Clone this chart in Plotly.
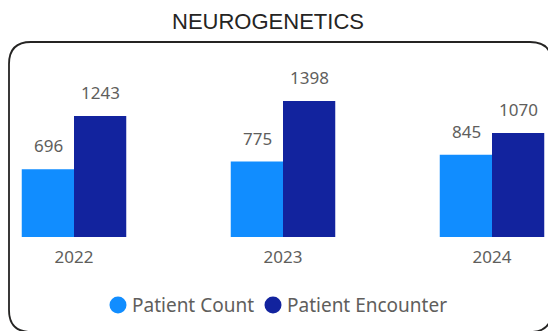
import plotly.graph_objects as go

# Yearly figures for the neurogenetics clinic
years = ["2022", "2023", "2024"]
patient_count = [696, 775, 845]
patient_encounter = [1243, 1398, 1070]

series_names = ["Patient Count", "Patient Encounter"]
series_colors = ["#118DFF", "#12239E"]

W, H = 548, 331
ML, MR, MT, MB = 0, 0, 60, 94
PLOT_H = H - MT - MB
LABEL_COLOR = "#605E5C"


def px_x(px):
    return px / (W - ML - MR)


def px_y(py):
    return (H - MB - py) / PLOT_H


fig = go.Figure()
for name, vals, col in zip(series_names, [patient_count, patient_encounter], series_colors):
    fig.add_trace(go.Bar(
        x=years, y=vals, name=name, marker=dict(color=col, line=dict(width=0)),
        showlegend=False, hoverinfo="x+y+name",
    ))

# value labels above each bar (x given as category index)
for vals, shift in [(patient_count, -26), (patient_encounter, 26)]:
    for i, v in enumerate(vals):
        fig.add_annotation(
            x=i, y=v, text=str(v), showarrow=False, xshift=shift,
            yanchor="bottom", yshift=10,
            font=dict(family="Noto Sans", size=17, color=LABEL_COLOR),
        )

# legend row: circle swatch + series name
legend_items = [(118, 130), (273, 285)]
for (cx, tx), name, col in zip(legend_items, series_names, series_colors):
    fig.add_shape(type="circle", xref="paper", yref="paper",
                  xsizemode="pixel", ysizemode="pixel",
                  xanchor=px_x(cx), yanchor=px_y(305),
                  x0=-8.5, x1=8.5, y0=-8.5, y1=8.5,
                  fillcolor=col, line=dict(width=0))
    fig.add_annotation(x=px_x(tx), y=px_y(305), xref="paper", yref="paper",
                       text=name, showarrow=False, xanchor="left", yanchor="middle",
                       font=dict(family="Noto Sans", size=19, color=LABEL_COLOR))

# rounded frame around the chart (right and bottom edges run past the page)
x0, x1 = px_x(9), px_x(552)
y0, y1 = px_y(42), px_y(332)
rx, ry = px_x(22) - px_x(0), px_y(0) - px_y(22)
path = (
    f"M {x0 + rx},{y0} L {x1 - rx},{y0} Q {x1},{y0} {x1},{y0 - ry} "
    f"L {x1},{y1 + ry} Q {x1},{y1} {x1 - rx},{y1} "
    f"L {x0 + rx},{y1} Q {x0},{y1} {x0},{y1 + ry} "
    f"L {x0},{y0 - ry} Q {x0},{y0} {x0 + rx},{y0} Z"
)
fig.add_shape(type="path", xref="paper", yref="paper", path=path,
              line=dict(color="#252423", width=1.8))

px_per_unit = 136 / 1398
cat_px = 209
fig.update_layout(
    width=W, height=H,
    margin=dict(l=ML, r=MR, t=MT, b=MB, autoexpand=False),
    paper_bgcolor="white", plot_bgcolor="white",
    barmode="group", bargap=0.5, bargroupgap=0,
    showlegend=False,
    title=dict(text="NEUROGENETICS", x=px_x(268), xanchor="center", xref="paper",
               y=1 - 21 / H, yanchor="middle", yref="container",
               font=dict(family="Liberation Sans", size=22, color="#252423")),
    xaxis=dict(type="category", range=[-74 / cat_px, (W - 74) / cat_px],
               showgrid=False, showline=False, zeroline=False, ticks="",
               tickfont=dict(family="Noto Sans", size=17, color=LABEL_COLOR),
               ticklabelstandoff=8),
    yaxis=dict(range=[0, PLOT_H / px_per_unit], visible=False),
)

fig.write_html("out.html")
